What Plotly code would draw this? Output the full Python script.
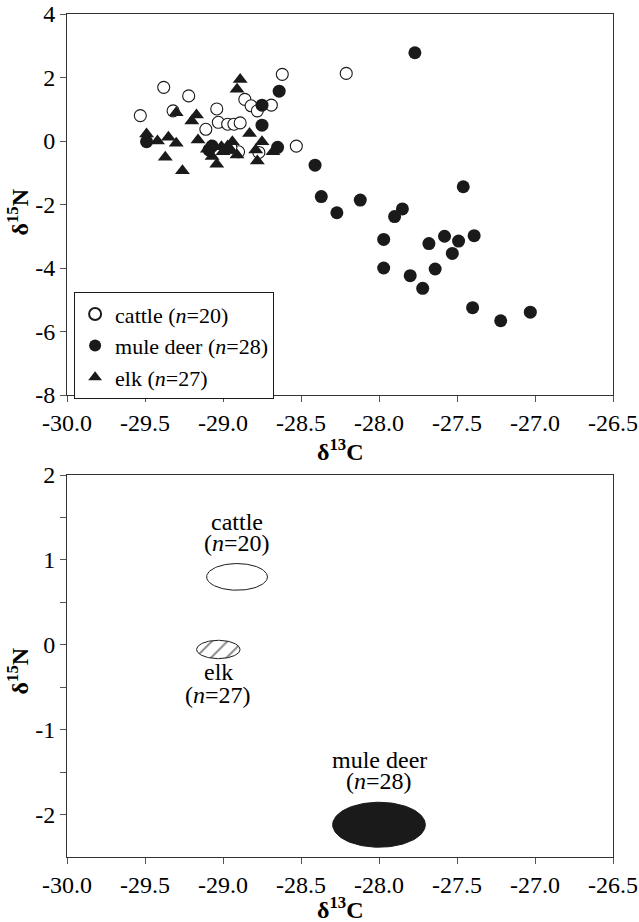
import plotly.graph_objects as go
import numpy as np

# ---------------- data (top panel) ----------------
cattle_x = [-29.53, -29.38, -29.22, -29.32, -29.04, -29.11, -29.03, -28.97, -28.93, -28.89,
            -28.86, -28.82, -28.78, -28.69, -28.62, -28.90, -28.77, -28.53, -28.21, -28.95]
cattle_y = [0.80, 1.69, 1.42, 0.95, 1.01, 0.37, 0.59, 0.53, 0.53, 0.57,
            1.31, 1.11, 0.95, 1.13, 2.10, -0.34, -0.36, -0.16, 2.13, -0.20]

deer_x = [-29.49, -29.07, -29.09, -28.75, -28.64, -28.75, -28.65, -28.41, -28.37, -27.77,
          -28.12, -27.46, -28.27, -27.85, -27.90, -27.97, -27.68, -27.58, -27.49, -27.39,
          -27.53, -27.97, -27.80, -27.64, -27.72, -27.40, -27.22, -27.03]
deer_y = [-0.02, -0.16, -0.28, 1.13, 1.57, 0.50, -0.20, -0.76, -1.75, 2.78,
          -1.86, -1.44, -2.26, -2.14, -2.38, -3.10, -3.23, -3.00, -3.15, -2.98,
          -3.54, -4.00, -4.24, -4.03, -4.64, -5.25, -5.66, -5.39]

elk_x = [-28.89, -28.91, -29.30, -29.20, -29.17, -29.49, -29.42, -29.35, -29.30, -29.37,
         -29.26, -29.16, -29.10, -29.07, -29.04, -29.00, -28.97, -28.94, -28.91, -28.83,
         -28.79, -28.75, -28.78, -28.68, -29.01, -29.08, -28.95]
elk_y = [1.94, 1.63, 0.89, 0.63, 0.82, 0.22, 0.00, 0.12, -0.07, -0.51,
         -0.94, 0.03, -0.26, -0.49, -0.73, -0.34, -0.16, -0.02, -0.44, 0.24,
         -0.28, -0.02, -0.63, -0.34, -0.18, -0.15, -0.28]

legend_names = ["cattle (<i>n</i>=20)", "mule deer (<i>n</i>=28)", "elk (<i>n</i>=27)"]

# ---------------- data (bottom panel: ellipses) ----------------
groups = ["cattle", "elk", "mule deer"]
group_n = ["(<i>n</i>=20)", "(<i>n</i>=27)", "(<i>n</i>=28)"]
ell_cx = [-28.91, -29.03, -28.00]
ell_cy = [0.80, -0.055, -2.12]
ell_rx = [0.195, 0.139, 0.297]
ell_ry = [0.157, 0.108, 0.265]
label_above = [True, False, True]

x_tickvals = [-30.0, -29.5, -29.0, -28.5, -28.0, -27.5, -27.0, -26.5]
x_ticktext = ["-30.0", "-29.5", "-29.0", "-28.5", "-28.0", "-27.5", "-27.0", "-26.5"]
y1_tickvals = [4, 2, 0, -2, -4, -6, -8]
y1_ticktext = ["4", "2", "0", "-2", "-4", "-6", "-8"]
y2_tickvals = [2, 1, 0, -1, -2]
y2_ticktext = ["2", "1", "0", "-1", "-2"]
y2_minor = [1.5, 0.5, -0.5, -1.5]

FONT = "Liberation Serif, Times New Roman, Times, serif"
FS = 24

fig = go.Figure()

fig.add_trace(go.Scatter(x=cattle_x, y=cattle_y, mode="markers", name=legend_names[0],
                         marker=dict(symbol="circle", size=12, color="white",
                                     line=dict(color="#1a1a1a", width=1.1)),
                         xaxis="x", yaxis="y"))
fig.add_trace(go.Scatter(x=deer_x, y=deer_y, mode="markers", name=legend_names[1],
                         marker=dict(symbol="circle", size=13, color="#1a1a1a",
                                     line=dict(width=0)),
                         xaxis="x", yaxis="y"))
fig.add_trace(go.Scatter(x=elk_x, y=elk_y, mode="markers", name=legend_names[2],
                         marker=dict(symbol="triangle-up", size=13, color="#1a1a1a",
                                     line=dict(width=0)),
                         xaxis="x", yaxis="y"))

# ellipses
t = np.linspace(0, 2 * np.pi, 121)
fills = ["white", "white", "#1a1a1a"]
for i in range(3):
    ex = ell_cx[i] + ell_rx[i] * np.cos(t)
    ey = ell_cy[i] + ell_ry[i] * np.sin(t)
    kw = {}
    if groups[i] == "elk":
        kw["fillpattern"] = dict(shape="/", size=11, solidity=0.18, fgcolor="#1a1a1a",
                                 bgcolor="white")
    fig.add_trace(go.Scatter(x=ex, y=ey, mode="lines", fill="toself", fillcolor=fills[i],
                             line=dict(color="#1a1a1a", width=1), showlegend=False,
                             hoverinfo="skip", xaxis="x2", yaxis="y2", **kw))

lab_font = dict(family=FONT, size=FS, color="black")
ann = []
for i in range(3):
    if label_above[i]:
        yref_v = ell_cy[i] + ell_ry[i]
        s_name, s_n = 42, 21
    else:
        yref_v = ell_cy[i] - ell_ry[i]
        s_name, s_n = -13, -36
    ann.append(dict(x=ell_cx[i], y=yref_v, xref="x2", yref="y2", text=groups[i],
                    yshift=s_name, showarrow=False, font=lab_font,
                    xanchor="center", yanchor="middle"))
    ann.append(dict(x=ell_cx[i], y=yref_v, xref="x2", yref="y2", text=group_n[i],
                    yshift=s_n, showarrow=False, font=lab_font,
                    xanchor="center", yanchor="middle"))

# axis titles
title_txt_x = "<b>δ<sup>13</sup>C</b>"
title_txt_y = "<b>δ<sup>15</sup>N</b>"
for yy in [0.4828, -0.0605]:
    ann.append(dict(x=0.5, y=yy, xref="paper", yref="paper", text=title_txt_x,
                    showarrow=False, font=lab_font, xanchor="center", yanchor="middle"))
for yy in [0.765, 0.2206]:
    ann.append(dict(x=-0.089, y=yy, xref="paper", yref="paper", text=title_txt_y,
                    textangle=-90, showarrow=False, font=lab_font,
                    xanchor="center", yanchor="middle"))

axis_common = dict(showline=True, mirror=True, linecolor="#333333", linewidth=1,
                   ticks="outside", ticklen=6, tickcolor="#555555", showgrid=False,
                   zeroline=False, automargin=False,
                   tickfont=dict(family=FONT, size=FS, color="black"))

fig.update_layout(
    width=639, height=922,
    margin=dict(l=67, r=26, t=14, b=65),
    paper_bgcolor="white", plot_bgcolor="white",
    font=dict(family=FONT, size=FS, color="black"),
    showlegend=True,
    legend=dict(x=0.013, y=0.67, xanchor="left", yanchor="top",
                bordercolor="#1a1a1a", borderwidth=1, bgcolor="white",
                font=dict(family=FONT, size=22, color="black"),
                tracegroupgap=0, itemsizing="constant"),
    xaxis=dict(domain=[0, 1], range=[-30, -26.5], anchor="y",
               tickvals=x_tickvals, ticktext=x_ticktext, **axis_common),
    yaxis=dict(domain=[0.548, 1], range=[-8, 4], anchor="x",
               tickvals=y1_tickvals, ticktext=y1_ticktext, **axis_common),
    xaxis2=dict(domain=[0, 1], range=[-30, -26.5], anchor="y2",
                tickvals=x_tickvals, ticktext=x_ticktext, **axis_common),
    yaxis2=dict(domain=[0, 0.4531], range=[-2.5, 2], anchor="x2",
                tickvals=y2_tickvals, ticktext=y2_ticktext,
                minor=dict(tickvals=y2_minor, ticks="outside", ticklen=6,
                           tickcolor="#555555"),
                **axis_common),
    annotations=ann,
)

# remove the default 8px page margin so the figure fills the window exactly
fig.write_html("out.html", config={"displayModeBar": False},
               post_script="document.body.style.margin='0';document.body.style.overflow='hidden';")
